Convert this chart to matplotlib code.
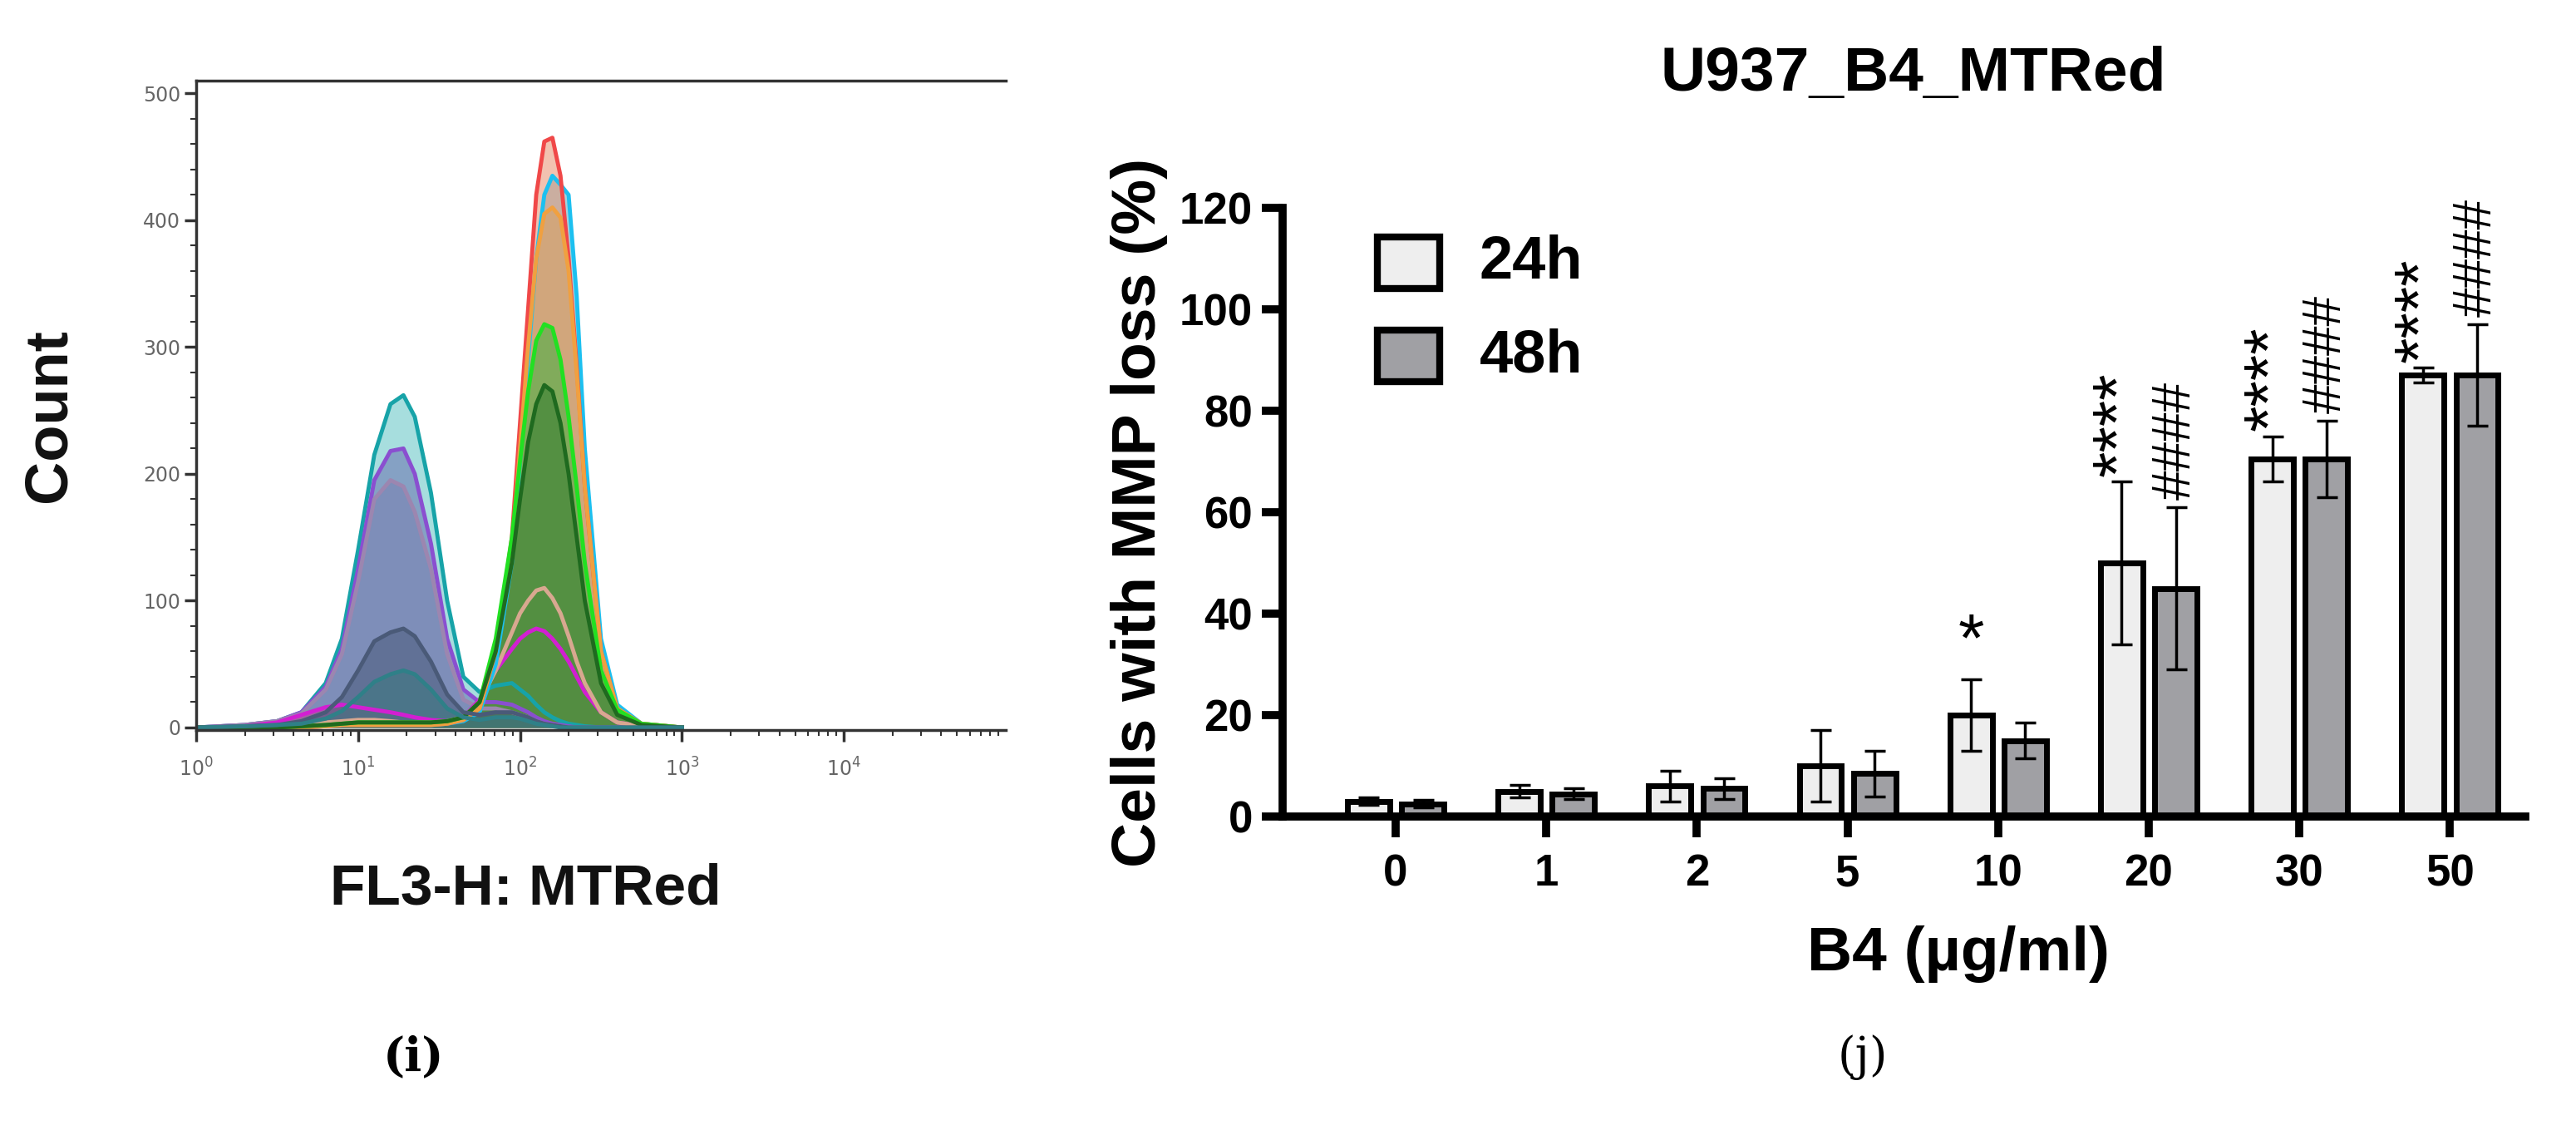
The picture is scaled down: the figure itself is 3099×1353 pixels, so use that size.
import matplotlib
matplotlib.use("Agg")
import matplotlib.pyplot as plt
import numpy as np
from matplotlib.ticker import MultipleLocator, LogLocator, NullFormatter
from matplotlib.patches import Rectangle

# ---------------- data: histogram (i) ----------------
hist_logx = [0.0,0.3,0.5,0.65,0.8,0.9,1.0,1.1,1.2,1.28,1.35,1.45,1.55,1.65,1.75,1.85,1.95,2.0,2.05,2.1,2.15,2.2,2.25,2.3,2.35,2.4,2.5,2.6,2.75,3.0]
hist_teal = [0,2,5,12,35,70,140,215,255,262,245,185,100,40,28,33,35,30,25,18,12,8,5,3,2,1,0,0,0,0]
hist_purple = [0,2,5,12,32,62,125,195,218,220,200,145,70,30,20,20,18,15,12,8,5,3,2,1,0,0,0,0,0,0]
hist_mauve = [0,2,5,11,30,58,115,180,195,190,170,125,58,22,15,15,12,10,8,5,3,2,1,0,0,0,0,0,0,0]
hist_slate = [0,1,2,5,12,24,45,68,75,78,72,52,26,12,10,12,12,10,8,5,3,2,1,0,0,0,0,0,0,0]
hist_darkteal = [0,1,2,3,7,13,24,36,42,45,42,30,15,8,6,8,8,7,5,3,2,1,0,0,0,0,0,0,0,0]
hist_magenta = [0,1,4,10,16,18,16,14,12,10,8,6,5,8,22,45,62,70,75,78,76,70,62,52,40,28,12,4,1,0]
hist_tan = [0,0,1,2,4,5,6,6,5,4,4,4,5,8,20,45,75,90,100,108,110,102,90,72,52,35,12,4,1,0]
hist_darkgreen = [0,0,0,1,2,3,4,4,4,4,4,4,5,8,20,60,130,180,225,255,270,265,240,200,150,100,35,10,2,0]
hist_green = [0,0,0,1,2,3,4,4,4,4,4,4,5,8,20,70,150,210,265,305,318,315,290,245,190,130,45,14,3,0]
hist_orange = [0,0,0,0,1,2,2,2,2,2,2,2,3,6,15,60,140,220,300,370,405,410,402,360,280,190,60,15,3,0]
hist_red = [0,0,0,0,1,2,2,2,2,2,2,2,3,6,15,60,150,240,330,420,462,465,435,370,285,190,60,15,3,0]
hist_cyan = [0,0,0,0,1,2,2,2,2,2,2,2,3,5,12,50,130,210,290,370,420,435,428,420,340,220,70,18,3,0]

# ---------------- data: bar chart (j) ----------------
doses = ["0", "1", "2", "5", "10", "20", "30", "50"]
mean_24h = [3, 5, 6, 10, 20, 50, 70.5, 87]
err_24h = [0.7, 1.3, 3, 7, 7, 16, 4.5, 1.5]
mean_48h = [2.5, 4.5, 5.5, 8.5, 15, 45, 70.5, 87]
err_48h = [0.7, 1.0, 2, 4.5, 3.5, 16, 7.5, 10]
sig_24h = ["", "", "", "", "*", "****", "****", "****"]
sig_48h = ["", "", "", "", "", "####", "####", "####"]

W, H = 3099, 1353
fig = plt.figure(figsize=(W/100, H/100), dpi=100)

def fx(px): return px / W
def fy(py): return 1 - py / H

# ---------- panel (i) ----------
axL = fig.add_axes([fx(236), fy(878), fx(1210-236), fy(97)-fy(878)])
curves = [
    (hist_teal, "#17a3a8", "#5fc4c4"),
    (hist_purple, "#8a4fd0", "#6a70b0"),
    (hist_mauve, "#9c86b0", "#7a80b0"),
    (hist_magenta, "#d21fd2", "#c04090"),
    (hist_tan, "#d8a890", "#c8a080"),
    (hist_cyan, "#1cc0f0", "#60b0c0"),
    (hist_red, "#f04848", "#e89070"),
    (hist_orange, "#f0a040", "#d8a060"),
    (hist_green, "#22e022", "#40b040"),
    (hist_darkgreen, "#1f6a1f", "#2f7a2f"),
    (hist_slate, "#4a5a78", "#4a5a7a"),
    (hist_darkteal, "#2f8088", "#3a7a80"),
]
xs = 10 ** np.array(hist_logx)
for ys, ec, fc in curves:
    axL.fill_between(xs, ys, color=fc, alpha=0.55, lw=0)
    axL.plot(xs, ys, color=ec, lw=3.5)
axL.set_xscale("log")
axL.set_xlim(1, 1e5)
axL.set_ylim(-2, 510)
axL.set_xticks([1, 10, 100, 1000, 10000])
axL.set_xticklabels(["$10^0$", "$10^1$", "$10^2$", "$10^3$", "$10^4$"])
axL.xaxis.set_minor_locator(LogLocator(base=10, subs=np.arange(2, 10)))
axL.xaxis.set_minor_formatter(NullFormatter())
axL.set_yticks([0, 100, 200, 300, 400, 500])
axL.yaxis.set_minor_locator(MultipleLocator(20))
for s in ["top", "left", "bottom"]:
    axL.spines[s].set_color("#333333")
    axL.spines[s].set_linewidth(2.5)
axL.spines["right"].set_visible(False)
axL.tick_params(axis="both", which="major", labelsize=17, colors="#333333",
                labelcolor="#666666", width=2.5, length=10, direction="out")
axL.tick_params(axis="both", which="minor", colors="#333333", width=1.5, length=5)
axL.tick_params(axis="x", pad=14)
fig.text(fx(60), fy(500), "Count", rotation=90, ha="center", va="center",
         fontsize=52, fontweight="bold", family="Liberation Sans", color="#111111")
fig.text(fx(632), fy(1070), "FL3-H: MTRed", ha="center", va="center",
         fontsize=50, fontweight="bold", family="Liberation Sans", color="#111111")
fig.text(fx(497), fy(1272), "(i)", ha="center", va="center",
         fontsize=40, fontweight="bold", family="DejaVu Serif")

# ---------- panel (j) ----------
nar = ["Liberation Sans Narrow", "Liberation Sans"]
axR = fig.add_axes([fx(1543), fy(982), fx(3038-1543), fy(250)-fy(982)])
x = np.arange(len(doses))
bw = 0.28
axR.bar(x - 0.18, mean_24h, bw, color="#eeeeee", edgecolor="black", linewidth=5, zorder=2)
axR.bar(x + 0.18, mean_48h, bw, color="#a0a0a4", edgecolor="black", linewidth=5, zorder=2)
axR.errorbar(x - 0.18, mean_24h, yerr=err_24h, fmt="none", ecolor="black",
             elinewidth=2.5, capsize=9, capthick=2.5, zorder=3)
axR.errorbar(x + 0.18, mean_48h, yerr=err_48h, fmt="none", ecolor="black",
             elinewidth=2.5, capsize=9, capthick=2.5, zorder=3)
for i in range(len(doses)):
    if sig_24h[i] == "*":
        axR.text(x[i] - 0.18, mean_24h[i] + err_24h[i] + 1, "*", ha="center", va="bottom",
                 fontsize=58, family="Liberation Sans")
    elif sig_24h[i]:
        axR.text(x[i] - 0.18, mean_24h[i] + err_24h[i] + 1, sig_24h[i], rotation=90,
                 ha="center", va="bottom", fontsize=58, family="Liberation Sans")
    if sig_48h[i]:
        axR.text(x[i] + 0.18, mean_48h[i] + err_48h[i] + 1.5, sig_48h[i], rotation=90,
                 ha="center", va="bottom", fontsize=46, family="Liberation Sans")
axR.set_xlim(-0.75, 7.5)
axR.set_ylim(0, 120)
axR.set_xticks(x)
axR.set_xticklabels(doses)
axR.set_yticks(range(0, 121, 20))
for s in ["top", "right"]:
    axR.spines[s].set_visible(False)
for s in ["left", "bottom"]:
    axR.spines[s].set_linewidth(7)
axR.tick_params(width=7, length=18, labelsize=38, pad=8)
for lab in axR.get_xticklabels() + axR.get_yticklabels():
    lab.set_family(nar)
    lab.set_fontweight("bold")
axR.tick_params(axis="x", pad=14)
axR.set_ylabel("Cells with MMP loss (%)", fontsize=54, fontweight="bold",
               family="Liberation Sans", labelpad=10)
fig.text(fx(2356), fy(1148), "B4 (µg/ml)", ha="center", va="center",
         fontsize=54, fontweight="bold", family=nar)
fig.text(fx(2302), fy(90), "U937_B4_MTRed", ha="center", va="center",
         fontsize=54, fontweight="bold", family=nar)
for (ytop, col, lab) in [(285, "#eeeeee", "24h"), (397, "#a0a0a4", "48h")]:
    fig.patches.append(Rectangle((fx(1657), fy(ytop + 62)), fx(75), fy(ytop) - fy(ytop + 62),
                                 transform=fig.transFigure, facecolor=col,
                                 edgecolor="black", linewidth=6))
    fig.text(fx(1780), fy(ytop + 31), lab, ha="left", va="center",
             fontsize=52, fontweight="bold", family=nar)
fig.text(fx(2241), fy(1272), "(j)", ha="center", va="center",
         fontsize=40, family="DejaVu Serif")

fig.savefig("out.png", dpi=100)
